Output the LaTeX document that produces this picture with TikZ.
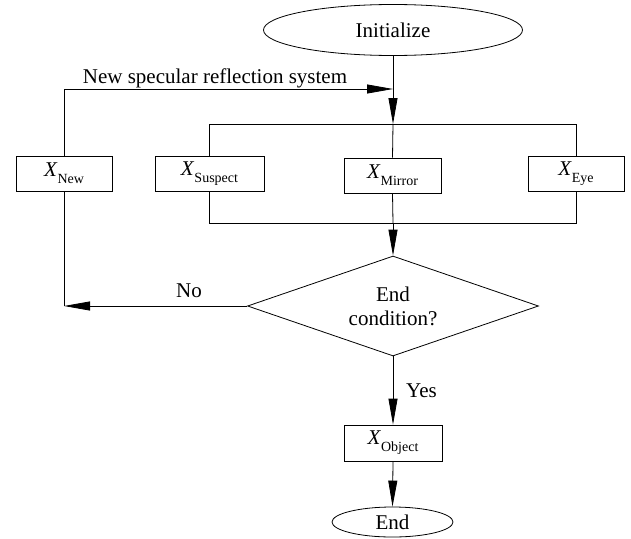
\documentclass[tikz,border=0pt]{standalone}
\usepackage{fontspec}
\setmainfont{Liberation Serif}
\usetikzlibrary{shapes.geometric,arrows.meta}
\newcommand{\Xsub}[1]{\textit{X}\raisebox{-7pt}{\fontsize{14}{14}\selectfont #1}}
\begin{document}
\begin{tikzpicture}[x=1pt,y=-1pt,
  every node/.style={font=\fontsize{21}{24}\selectfont, inner sep=0pt},
  line/.style={draw=black, line width=0.8pt},
  arr/.style={line, -{Triangle[length=26pt,width=9pt]}},
  oval/.style={ellipse, draw=black, line width=0.8pt},
  blk/.style={rectangle, draw=black, line width=0.8pt, minimum height=35pt},
  decide/.style={diamond, draw=black, line width=0.8pt, align=center, minimum width=291pt, minimum height=100pt, shape aspect=2.91},
  lbl/.style={anchor=base}
]
\useasboundingbox (0,0) rectangle (631,538);

\node[oval, minimum width=259pt, minimum height=51pt] (init) at (393,30) {Initialize};

\node[blk, minimum width=96pt]  (xnew)  at (64,173.5)  {\Xsub{New}};
\node[blk, minimum width=109pt] (xsus)  at (209.5,173.5) {\Xsub{Suspect}};
\node[blk, minimum width=97pt]  (xmir)  at (392.5,175.5) {\Xsub{Mirror}};
\node[blk, minimum width=96pt]  (xeye)  at (576,173.5) {\Xsub{Eye}};

\node[decide] (cond) at (393,306) {End\\condition?};

\node[blk, minimum width=98pt, minimum height=36pt] (xobj) at (393,443) {\Xsub{Object}};
\node[oval, minimum width=121pt, minimum height=30pt] (end) at (392.5,522) {End};

\coordinate (jin)  at (393,89);
\coordinate (jtop) at (393,124);
\coordinate (jbot) at (393,223);

% top path
\draw[arr] (init.south) -- (jtop);
\draw[arr] (xnew.north) |- (jin);

% top bus
\draw[line] (xsus.north) -- (xsus.north |- jtop) -- (xeye.north |- jtop) -- (xeye.north);
\draw[line] (jtop) -- (xmir.north);

% bottom bus
\draw[line] (xsus.south) -- (xsus.south |- jbot) -- (xeye.south |- jbot) -- (xeye.south);
\draw[line] (xmir.south) -- (jbot);
\draw[arr] (jbot) -- (cond.north);

% No branch
\draw[arr] (cond.west) -- (xnew.south |- cond.west);
\draw[line] (xnew.south) -- (xnew.south |- cond.west);

% Yes branch
\draw[arr] (cond.south) -- (xobj.north);
\draw[arr] (xobj.south) -- (end.north);

% labels
\node[lbl] (lnew) at (215,83) {New specular reflection system};
\node[lbl] (lno)  at (189,297) {No};
\node[lbl] (lyes) at (421.5,397) {Yes};
\end{tikzpicture}
\end{document}
